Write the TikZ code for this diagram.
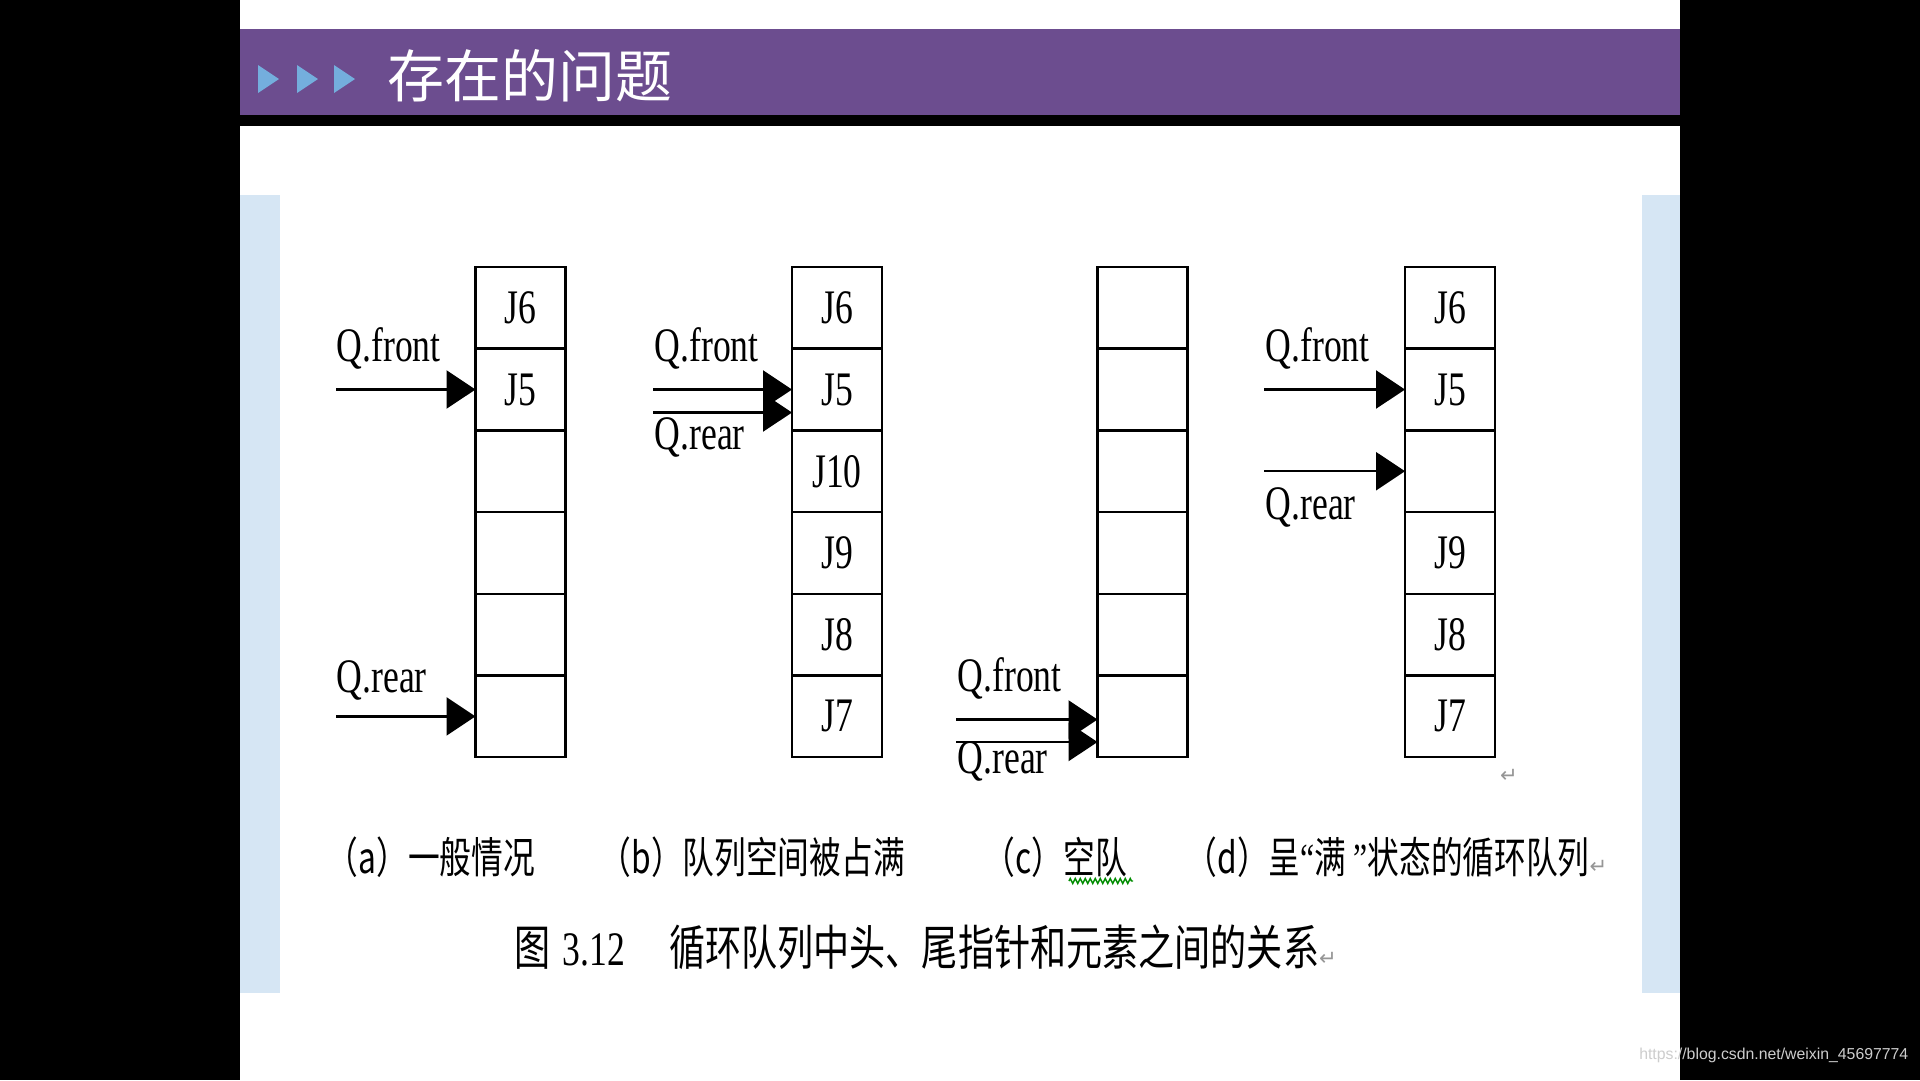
\documentclass[tikz,border=0pt]{standalone}
\usepackage{fontspec}
\usetikzlibrary{arrows.meta,positioning,decorations.pathmorphing}

\newfontfamily\qfont[FakeStretch=0.74]{Liberation Serif}
\newfontfamily\capfont[FakeStretch=0.74]{Noto Sans CJK SC}
\newfontfamily\figfont[FakeStretch=0.75]{Noto Sans CJK SC}
\newfontfamily\titlefont{Noto Sans CJK SC}
\newfontfamily\symfont{DejaVu Sans}
\newfontfamily\urlfont{Liberation Sans}

\definecolor{titlebar}{RGB}{108,77,143}
\definecolor{sidebar}{RGB}{214,230,244}
\definecolor{marker}{RGB}{116,174,221}
\definecolor{retgray}{RGB}{150,150,150}
\definecolor{urlgray}{RGB}{205,205,205}

\tikzset{
  cell/.style={draw, line width=0.7pt, minimum width=9mm, minimum height=8.17mm,
    inner sep=0pt, outer sep=0pt, font={\qfont\fontsize{13.7}{14}\selectfont}},
  qlabel/.style={anchor=base west, inner sep=0pt, font={\qfont\fontsize{13.7}{14}\selectfont}},
  ptr/.style={line width=0.7pt, -{Triangle[length=2.9mm,width=3.8mm]}},
  subcap/.style={anchor=west, inner sep=0pt, font={\capfont\fontsize{12.2}{13}\selectfont}},
}

\newcommand{\retmark}{{\color{retgray}\symfont\fontsize{6}{6}\selectfont ↵}}

\begin{document}
\begin{tikzpicture}[x=0.1mm, y=-0.1mm]
\useasboundingbox (0,0) rectangle (1920,1080);

% Slide background
\fill[black] (0,0) rectangle (1920,1080);
\fill[white] (240,0) rectangle (1680,1080);
\fill[titlebar] (240,29) rectangle (1680,115);
\fill[black] (240,115) rectangle (1680,126);
\fill[sidebar] (240,195) rectangle (280,993);
\fill[sidebar] (1642,195) rectangle (1680,993);

% Title bar
\fill[marker] (258,65) -- (279,79) -- (258,93) -- cycle;
\fill[marker] (297,65) -- (318,79) -- (297,93) -- cycle;
\fill[marker] (334,65) -- (355,79) -- (334,93) -- cycle;
\node[anchor=west, inner sep=0pt, text=white, font={\titlefont\fontsize{16.2}{17}\selectfont}] (title) at (387,76) {存在的问题};

% Queue (a)
\node[cell] (a1) at (520.5,307.85) {J6};
\node[cell, below=0pt of a1] (a2) {J5};
\node[cell, below=0pt of a2] (a3) {};
\node[cell, below=0pt of a3] (a4) {};
\node[cell, below=0pt of a4] (a5) {};
\node[cell, below=0pt of a5] (a6) {};

% Queue (b)
\node[cell] (b1) at (837,307.85) {J6};
\node[cell, below=0pt of b1] (b2) {J5};
\node[cell, below=0pt of b2] (b3) {J10};
\node[cell, below=0pt of b3] (b4) {J9};
\node[cell, below=0pt of b4] (b5) {J8};
\node[cell, below=0pt of b5] (b6) {J7};

% Queue (c)
\node[cell] (c1) at (1142.5,307.85) {};
\node[cell, below=0pt of c1] (c2) {};
\node[cell, below=0pt of c2] (c3) {};
\node[cell, below=0pt of c3] (c4) {};
\node[cell, below=0pt of c4] (c5) {};
\node[cell, below=0pt of c5] (c6) {};

% Queue (d)
\node[cell] (d1) at (1450,307.85) {J6};
\node[cell, below=0pt of d1] (d2) {J5};
\node[cell, below=0pt of d2] (d3) {};
\node[cell, below=0pt of d3] (d4) {J9};
\node[cell, below=0pt of d4] (d5) {J8};
\node[cell, below=0pt of d5] (d6) {J7};

% Pointers of (a)
\coordinate (afront) at (336,389.5);
\coordinate (arear) at (336,716.4);
\draw[ptr] (afront) -- (afront -| a2.west);
\draw[ptr] (arear) -- (arear -| a6.west);
\node[qlabel] (afrontlbl) at (336,361) {Q.front};
\node[qlabel] (arearlbl) at (336,692) {Q.rear};

% Pointers of (b)
\coordinate (bfront) at (653,389.5);
\coordinate (brear) at (653,412.5);
\draw[ptr] (bfront) -- (bfront -| b2.west);
\draw[ptr] (brear) -- (brear -| b2.west);
\node[qlabel] (bfrontlbl) at (654,361) {Q.front};
\node[qlabel] (brearlbl) at (654,449) {Q.rear};

% Pointers of (c)
\coordinate (cfront) at (956,719.5);
\coordinate (crear) at (956,742);
\draw[ptr] (cfront) -- (cfront -| c6.west);
\draw[ptr] (crear) -- (crear -| c6.west);
\node[qlabel] (cfrontlbl) at (957,691) {Q.front};
\node[qlabel] (crearlbl) at (957,773) {Q.rear};

% Pointers of (d)
\coordinate (dfront) at (1264,389.5);
\coordinate (drear) at (1264,471.2);
\draw[ptr] (dfront) -- (dfront -| d2.west);
\draw[ptr] (drear) -- (drear -| d3.west);
\node[qlabel] (dfrontlbl) at (1265,361) {Q.front};
\node[qlabel] (drearlbl) at (1265,519) {Q.rear};
\node[inner sep=0pt] (dret) at (1509,776) {\retmark};

% Sub-captions
\node[subcap] (acap) at (326,857) {（a）一般情况};
\node[subcap] (bcap) at (599,857) {（b）队列空间被占满};
\node[subcap] (ccap) at (983,857) {（c）空队};
\node[subcap] (dcap) at (1185,857) {（d）呈{\qfont “}满\,{\qfont ”}状态的循环队列\retmark};
\draw[green!55!black, line width=0.4pt, decorate,
  decoration={zigzag, segment length=0.5mm, amplitude=0.25mm}] (1069,881) -- (1133,881);

% Figure caption
\node[anchor=west, inner sep=0pt, font={\figfont\fontsize{13.7}{14}\selectfont}] (figcap) at (514,947.5)
  {图\hspace{1.2mm}{\qfont 3.12}\hspace{4.4mm}循环队列中头、尾指针和元素之间的关系\retmark};

% Watermark
\node[anchor=base east, inner sep=0pt, text=urlgray, font={\urlfont\fontsize{4.5}{5}\selectfont}] (url) at (1909,1059) {https://blog.csdn.net/weixin\_45697774};

\end{tikzpicture}
\end{document}
